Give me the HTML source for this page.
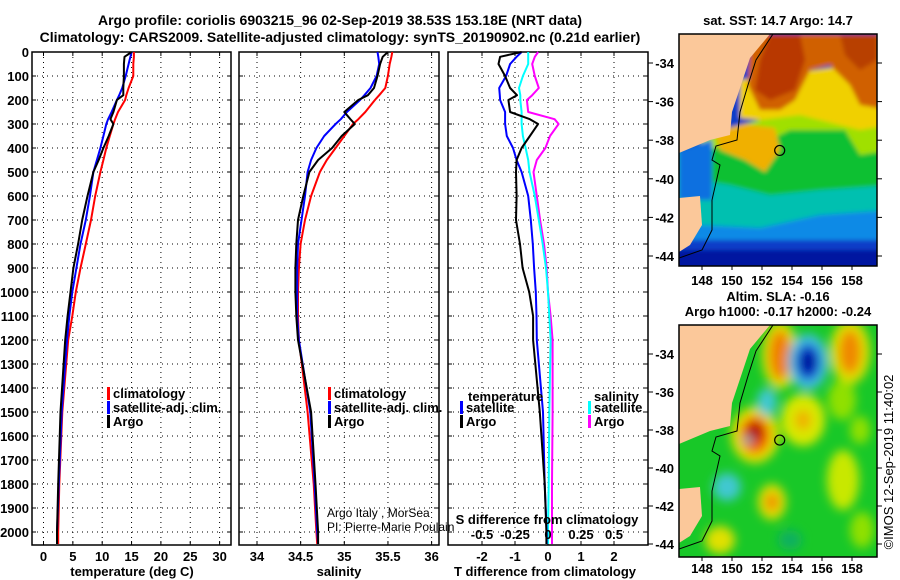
<!DOCTYPE html>
<html><head><meta charset="utf-8">
<style>
html,body{margin:0;padding:0;background:#fff;}
svg{display:block;font-family:"Liberation Sans",Arial,sans-serif;}
.b{font-weight:bold;font-size:13px;}
.t{font-weight:bold;font-size:14px;}
.n{font-weight:normal;font-size:12px;}
</style></head>
<body>
<svg id="fig" width="900" height="580" viewBox="0 0 900 580" xmlns="http://www.w3.org/2000/svg">
<defs>
<filter id="blur2"><feGaussianBlur stdDeviation="2"/></filter>
<filter id="blur5"><feGaussianBlur stdDeviation="5"/></filter>
<clipPath id="clipTop"><rect x="679" y="34" width="198" height="232"/></clipPath>
<clipPath id="clipBot"><rect x="679" y="325" width="198" height="232"/></clipPath>
</defs>
<text class="t" x="340" y="25" text-anchor="middle">Argo profile: coriolis 6903215_96 02-Sep-2019 38.53S 153.18E (NRT data)</text>
<text class="t" x="340" y="42" text-anchor="middle">Climatology: CARS2009. Satellite-adjusted climatology: synTS_20190902.nc (0.21d earlier)</text>
<text class="b" x="778" y="25" text-anchor="middle">sat. SST: 14.7 Argo: 14.7</text>
<text class="b" x="778" y="301" text-anchor="middle">Altim. SLA: -0.16</text>
<text class="b" x="778" y="316" text-anchor="middle">Argo h1000: -0.17 h2000: -0.24</text>
<text x="893" y="462" font-size="13" text-anchor="middle" transform="rotate(-90 893 462)">©IMOS 12-Sep-2019 11:40:02</text>

<g id="maps"></g>
<g id="panels"></g>
</svg>
<script>
// ---------- data ----------
const depths = [0,20,50,100,150,180,200,250,280,300,350,400,450,500,600,700,800,900,1000,1100,1200,1500,1800,2000,2050];
const tempClim = [15.4,15.4,15.3,15.3,14.5,14.1,13.9,12.7,12.2,11.9,11.3,10.7,10.2,9.7,8.8,8.1,7.2,6.3,5.5,4.9,4.2,3.2,2.7,2.5,2.5];
const tempSat  = [15.0,14.8,14.5,14.0,13.4,12.9,12.5,11.6,11.0,10.7,10.2,9.7,9.1,8.5,7.9,7.2,6.3,5.6,4.9,4.4,4.0,3.1,2.6,2.3,2.3];
const tempArgo = [15.0,13.8,13.7,13.7,13.6,13.6,12.5,11.9,11.4,11.9,11.1,10.2,9.4,8.5,7.5,6.6,5.9,5.1,4.6,4.1,3.7,2.9,2.5,2.3,2.3];
const salClim  = [35.55,35.54,35.52,35.5,35.47,35.4,35.35,35.24,35.16,35.1,35.0,34.9,34.8,34.72,34.62,34.55,34.5,34.48,34.47,34.47,34.48,34.58,34.65,34.68,34.69];
const salSat   = [35.38,35.39,35.4,35.37,35.3,35.23,35.18,35.03,34.96,34.9,34.77,34.68,34.62,34.58,34.55,34.51,34.47,34.46,34.46,34.46,34.48,34.61,34.66,34.69,34.7];
const salArgo  = [35.5,35.44,35.41,35.38,35.34,35.27,35.16,35.0,35.07,35.12,34.97,34.86,34.7,34.6,34.53,34.47,34.45,34.44,34.44,34.45,34.47,34.62,34.67,34.7,34.7];
const dTArgo   = [-0.8,-1.45,-1.5,-1.3,-1.15,-0.94,-1.2,-1.15,-0.55,-0.3,-0.55,-0.8,-0.95,-0.97,-0.95,-0.97,-0.85,-0.77,-0.57,-0.45,-0.45,-0.25,-0.1,-0.05,-0.05];
const dTSat    = [-0.8,-0.95,-1.15,-1.27,-1.48,-1.46,-1.45,-1.3,-1.3,-1.3,-1.25,-1.06,-0.95,-0.8,-0.6,-0.52,-0.46,-0.42,-0.37,-0.35,-0.34,-0.15,-0.1,-0.04,-0.04];
const dSSat    = [-0.15,-0.15,-0.15,-0.19,-0.22,-0.21,-0.21,-0.2,-0.2,-0.2,-0.19,-0.17,-0.15,-0.14,-0.1,-0.07,-0.04,-0.015,0,0.01,0.02,0.01,0.005,0,0];
const dSArgo   = [-0.075,-0.1,-0.12,-0.1,-0.07,-0.12,-0.16,-0.15,0.05,0.08,0.015,-0.02,-0.085,-0.11,-0.085,-0.06,-0.03,-0.01,0,0.02,0.035,0.035,0.03,0.03,0.03];
const depthTicks = [0,100,200,300,400,500,600,700,800,900,1000,1100,1200,1300,1400,1500,1600,1700,1800,1900,2000];
const tempTicks = [0,5,10,15,20,25,30];
const salTicks = [34,34.5,35,35.5,36];
const salTickLabels = ["34","34.5","35","35.5","36"];
const dTTicks = [-2,-1,0,1,2];
const dSTicks = [-0.5,-0.25,0,0.25,0.5];
const dSTickLabels = ["-0.5","-0.25","0","0.25","0.5"];
const latTicks = [-34,-36,-38,-40,-42,-44];
const lonTicks = [148,150,152,154,156,158];

// ---------- helpers ----------
const NS="http://www.w3.org/2000/svg";
function mk(tag, attrs, parent){const e=document.createElementNS(NS,tag);for(const k in attrs)e.setAttribute(k,attrs[k]);(parent||document.getElementById('panels')).appendChild(e);return e;}
const yD = d => 52 + d*0.24;
const xT = t => 43.5 + t*5.87;
const xS = s => 257 + (s-34)*87.3;
const xDT = v => 548 + v*33;
const xDS = v => 548 + v*132;
const P = document.getElementById('panels');

function panel(name,x0,x1,xTicksPx){
  const g=mk('g',{},P);
  
  
  depthTicks.forEach(d=>{ if(d>0) mk('line',{x1:x0,x2:x1,y1:yD(d),y2:yD(d),stroke:'#000','stroke-width':1,'stroke-dasharray':'1,4'},g);
    mk('line',{x1:x0,x2:x0+4,y1:yD(d),y2:yD(d),stroke:'#000'},g); mk('line',{x1:x1-4,x2:x1,y1:yD(d),y2:yD(d),stroke:'#000'},g);});
  xTicksPx.forEach(px=>{ mk('line',{x1:px,x2:px,y1:52,y2:545,stroke:'#000','stroke-width':1,'stroke-dasharray':'1,4'},g);
    mk('line',{x1:px,x2:px,y1:545,y2:541,stroke:'#000'},g); mk('line',{x1:px,x2:px,y1:52,y2:56,stroke:'#000'},g);});
  mk('rect',{x:x0,y:52,width:x1-x0,height:493,fill:'none',stroke:'#000','stroke-width':1.5},g);
  return g;
}
function line(g,xs,xf,color,w,name){
  const pts=xs.map((v,i)=>xf(v).toFixed(1)+','+yD(depths[i]).toFixed(1)).join(' ');
  const p=mk('polyline',{points:pts,fill:'none',stroke:color,'stroke-width':w,'stroke-linejoin':'round'},g);
  
  
}
function txt(g,x,y,s,anchor,cls,name){
  const t=mk('text',{x:x,y:y,'text-anchor':anchor||'start',class:cls||'b'},g);t.textContent=s;
  
  
  return t;
}
function legend(g,x,y,color,label,name){
  mk('rect',{x:x-1,y:y-10,width:3,height:13,fill:color},g);
  txt(g,x+5,y+1,label,'start','b',name);
}

// depth labels
depthTicks.forEach(d=>txt(P,29,yD(d)+5,String(d),'end','b','depth-tick-label'));

// ---- Panel 1 temperature ----
const g1=panel('temperature-panel',32,231,tempTicks.map(xT));
line(g1,tempClim,xT,'#ff0000',2,'temp-climatology-line');
line(g1,tempSat,xT,'#0000ff',2,'temp-satellite-line');
line(g1,tempArgo,xT,'#000000',2,'temp-argo-line');
tempTicks.forEach(t=>txt(g1,xT(t),561,String(t),'middle','b','temp-tick-label'));
txt(g1,132,576,'temperature (deg C)','middle','b','temp-axis-title');
legend(g1,108,397,'#ff0000','climatology','legend-climatology');
legend(g1,108,411,'#0000ff','satellite-adj. clim.','legend-satellite');
legend(g1,108,425,'#000000','Argo','legend-argo');

// ---- Panel 2 salinity ----
const g2=panel('salinity-panel',239,439,salTicks.map(xS));
line(g2,salClim,xS,'#ff0000',2,'sal-climatology-line');
line(g2,salSat,xS,'#0000ff',2,'sal-satellite-line');
line(g2,salArgo,xS,'#000000',2,'sal-argo-line');
salTicks.forEach((s,i)=>txt(g2,xS(s),561,salTickLabels[i],'middle','b','sal-tick-label'));
txt(g2,339,576,'salinity','middle','b','sal-axis-title');
legend(g2,329,397,'#ff0000','climatology','legend-climatology');
legend(g2,329,411,'#0000ff','satellite-adj. clim.','legend-satellite');
legend(g2,329,425,'#000000','Argo','legend-argo');
txt(g2,327,517,'Argo Italy , MorSea','start','n','float-owner');
txt(g2,327,531,'PI: Pierre-Marie Poulain','start','n','float-pi');

// ---- Panel 3 differences ----
const g3=panel('difference-panel',448,648,dTTicks.map(xDT));
line(g3,dSArgo,xDS,'#ff00ff',2,'sal-diff-argo-line');
line(g3,dSSat,xDS,'#00ffff',2,'sal-diff-satellite-line');
line(g3,dTSat,xDT,'#0000ff',2,'temp-diff-satellite-line');
line(g3,dTArgo,xDT,'#000000',2,'temp-diff-argo-line');
dTTicks.forEach(v=>txt(g3,xDT(v),561,String(v),'middle','b','temp-diff-tick-label'));
txt(g3,545,576,'T difference from climatology','middle','b','temp-diff-axis-title');
txt(g3,547,524,'S difference from climatology','middle','b','sal-diff-axis-title');
dSTicks.forEach((v,i)=>txt(g3,xDS(v),539,dSTickLabels[i],'middle','b','sal-diff-tick-label'));
txt(g3,468,401,'temperature','start','b','legend-temperature-header');
legend(g3,461,411,'#0000ff','satellite','legend-temp-satellite');
legend(g3,461,425,'#000000','Argo','legend-temp-argo');
txt(g3,594,401,'salinity','start','b','legend-salinity-header');
legend(g3,589,411,'#00ffff','satellite','legend-sal-satellite');
legend(g3,589,425,'#ff00ff','Argo','legend-sal-argo');

// ---------- maps ----------
const M=document.getElementById('maps');
const lonX = l => 702 + (l-148)*15;
const latYTop = l => 63 + (-34-l)*19.3;
const latYBot = l => 354 + (-34-l)*19.0;

function landPolys(g,dy){
  const a="679,34 770,34 750,58 742,82 732,112 730,135 710,140 679,153";
  const b="679,198 700,196 702,225 690,245 679,252";
  [a,b].forEach(s=>{
    const pts=s.split(' ').map(p=>{const q=p.split(',');return q[0]+','+(+q[1]+dy);}).join(' ');
    mk('polygon',{points:pts,fill:'#fbc89a'},g);
  });
  const c="773,34 756,60 748,85 740,112 737,140 716,146 712,160 720,165 712,200 712,230 702,250 679,258";
  const pts=c.split(' ').map(p=>{const q=p.split(',');return q[0]+','+(+q[1]+dy);}).join(' ');
  mk('polyline',{points:pts,fill:'none',stroke:'#000','stroke-width':1},g);
}

// top SST map
const gm1=mk('g',{'clip-path':'url(#clipTop)'},M);


const f1=mk('g',{filter:'url(#blur2)'},gm1);
mk('rect',{x:670,y:25,width:220,height:250,fill:'#0a3cc8'},f1);
mk('rect',{x:670,y:200,width:220,height:40,fill:'#0a8ae6'},f1);
mk('polygon',{points:"670,150 890,150 890,210 820,215 760,228 700,225 670,220",fill:'#00c0b0'},f1);
mk('polygon',{points:"700,140 890,110 890,185 820,190 770,195 730,185 700,180",fill:'#10c030'},f1);
mk('polygon',{points:"700,135 760,120 860,100 890,120 890,150 860,155 845,130 790,130 770,140 700,150",fill:'#a0e000'},f1);
mk('polygon',{points:"715,132 745,124 775,128 780,150 765,172 745,160 720,150",fill:'#f0b000'},f1);
mk('polygon',{points:"740,80 890,60 890,125 860,130 800,115 760,120 740,118",fill:'#f0d000'},f1);
mk('polygon',{points:"750,34 890,34 890,110 860,105 850,85 830,65 810,70 795,100 780,110 760,110 748,85",fill:'#d06000'},f1);
mk('polygon',{points:"770,34 800,34 805,60 795,90 770,100 755,90 760,60",fill:'#b83800'},f1);
mk('polygon',{points:"840,34 877,34 877,60 860,70 845,55",fill:'#b84000'},f1);
mk('rect',{x:670,y:250,width:220,height:20,fill:'#0018a0'},f1);
mk('polygon',{points:"679,150 712,140 712,200 679,200",fill:'#0a70e0'},f1);
landPolys(gm1,0);
mk('circle',{cx:lonX(153.18),cy:latYTop(-38.53),r:5,fill:'none',stroke:'#000','stroke-width':1.2},gm1);
mk('rect',{x:679,y:34,width:198,height:232,fill:'none',stroke:'#000','stroke-width':1.5},M);

// bottom SLA map
const gm2=mk('g',{'clip-path':'url(#clipBot)'},M);


mk('rect',{x:670,y:320,width:220,height:245,fill:'#18c828'},gm2);
const f2=mk('g',{filter:'url(#blur5)'},gm2);
[
 [780,355,18,34,'#e0e000'],[780,355,11,25,'#f08000'],
 [808,362,20,28,'#40c0e0'],[808,362,12,18,'#0030c8'],[808,362,6,9,'#001090'],
 [850,352,20,32,'#e0e000'],[850,352,11,22,'#f08800'],
 [755,435,24,28,'#e8e000'],[755,435,15,19,'#f06000'],[755,432,8,10,'#b00000'],
 [803,420,22,26,'#d8e800'],[803,420,8,10,'#f0b000'],
 [727,487,14,14,'#40c8d0'],[767,402,10,14,'#40c8d0'],[748,440,4,4,'#40c8d0'],
 [772,502,14,18,'#e0e000'],[772,502,7,9,'#f09000'],
 [720,540,15,14,'#e0e000'],[842,400,14,20,'#90e000'],[843,480,16,30,'#c8e800'],
 [862,530,12,18,'#90e000'],[860,430,10,14,'#90e000'],[790,540,12,10,'#10b060']
].forEach(e=>mk('ellipse',{cx:e[0],cy:e[1],rx:e[2],ry:e[3],fill:e[4]},f2));
landPolys(gm2,291);
mk('circle',{cx:lonX(153.18),cy:latYBot(-38.53),r:5,fill:'none',stroke:'#000','stroke-width':1.2},gm2);
mk('rect',{x:679,y:325,width:198,height:232,fill:'none',stroke:'#000','stroke-width':1.5},M);

// map axes
latTicks.forEach(l=>{
  const y1=latYTop(l), y2=latYBot(l);
  txt(M,674,y1+5,String(l),'end','b','sst-map-lat-label');
  txt(M,674,y2+5,String(l),'end','b','sla-map-lat-label');
  mk('line',{x1:648,x2:653,y1:y1,y2:y1,stroke:'#000'},M);
  mk('line',{x1:648,x2:653,y1:y2,y2:y2,stroke:'#000'},M);
  mk('line',{x1:877,x2:882,y1:y1,y2:y1,stroke:'#000'},M);
  mk('line',{x1:877,x2:882,y1:y2,y2:y2,stroke:'#000'},M);
});
lonTicks.forEach(l=>{
  txt(M,lonX(l),285,String(l),'middle','b','sst-map-lon-label');
  txt(M,lonX(l),573,String(l),'middle','b','sla-map-lon-label');
  mk('line',{x1:lonX(l),x2:lonX(l),y1:266,y2:270,stroke:'#000'},M);
  mk('line',{x1:lonX(l),x2:lonX(l),y1:557,y2:561,stroke:'#000'},M);
});
</script>
</body></html>
